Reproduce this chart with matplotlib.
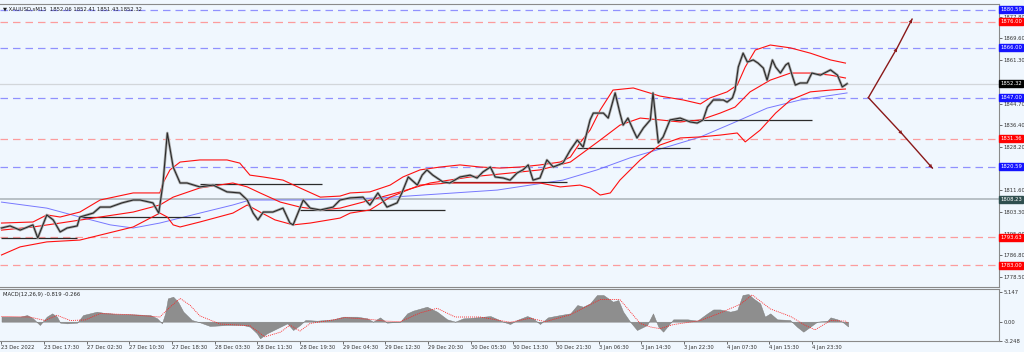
import matplotlib
matplotlib.use("Agg")
import matplotlib.pyplot as plt

# ---------------- data ----------------
title_text = "\u25bc XAUUSD,sM15  1852.06 1852.41 1851.43 1852.32"
macd_text = "MACD(12,26,9) -0.819 -0.266"

price_h = [0, 1.6, 3.5, 5.9, 6.8, 8.5, 9.7, 11.0, 12.3, 14.2, 14.7, 17.2, 18.5, 20.4, 22.6, 24.7, 26.0, 28.4, 29.5,
           30.3, 31.1, 32.2, 33.5, 34.8, 37.2, 39.7, 42.3, 44.7, 46.1, 47.2, 48.1, 49.1, 50.9, 52.8, 54.1, 54.7, 56.6,
           57.9, 59.8, 62.2, 63.5, 65.4, 67.8, 69.1, 70.6, 72.3, 74.2, 75.1, 76.3, 78.0, 78.9, 79.8, 80.9, 82.8, 84.1,
           86.0, 87.9, 89.2, 90.3, 91.7, 92.6, 94.1, 95.4, 96.7, 97.8, 98.8, 99.7, 101.0, 102.3, 103.5, 105.3, 106.7,
           108.0, 109.1, 110.4, 111.0, 112.9, 113.8, 115.1, 116.0, 116.6, 117.5, 118.5, 119.2, 120.4, 121.7, 122.2,
           123.2, 124.1, 125.4, 127.3, 129.2, 130.5, 131.6, 132.4, 133.5, 135.4, 136.1, 137.1, 137.6, 138.2, 139.1,
           139.9, 141.0, 141.9, 142.9, 143.6, 144.6, 145.2, 146.1, 147.1, 147.6, 148.4, 148.9, 149.8, 151.1, 152.0,
           153.6, 155.5, 156.8, 157.7, 158.6]
price_close = [1797.2, 1798.0, 1796.4, 1798.4, 1793.4, 1802.2, 1800.3, 1795.7, 1797.2, 1798.0, 1801.4, 1802.9, 1805.2,
               1805.2, 1806.8, 1807.9, 1807.9, 1806.8, 1802.9, 1814.4, 1833.5, 1820.5, 1814.4, 1814.4, 1812.9, 1813.6,
               1811.0, 1810.6, 1807.9, 1802.9, 1800.3, 1803.3, 1803.3, 1804.8, 1799.1, 1798.4, 1807.9, 1804.8, 1804.1,
               1805.2, 1807.9, 1808.7, 1809.0, 1806.0, 1810.6, 1805.2, 1806.8, 1810.6, 1816.7, 1813.6, 1817.4, 1819.4,
               1817.4, 1814.8, 1814.4, 1816.7, 1817.4, 1816.3, 1818.6, 1820.5, 1816.7, 1816.3, 1815.5, 1818.2, 1819.4,
               1821.3, 1815.5, 1816.3, 1823.2, 1820.5, 1822.0, 1827.0, 1830.8, 1828.1, 1838.5, 1841.1, 1841.1, 1839.2,
               1848.8, 1841.1, 1836.5, 1839.2, 1834.6, 1831.6, 1835.4, 1838.5, 1848.8, 1829.7, 1832.0, 1838.5, 1839.2,
               1837.7, 1837.3, 1838.5, 1843.4, 1846.1, 1846.1, 1845.3, 1846.9, 1849.9, 1858.7, 1864.0, 1860.6, 1861.4,
               1860.2, 1858.3, 1853.7, 1861.4, 1858.7, 1856.4, 1859.5, 1860.2, 1854.9, 1851.8, 1852.6, 1852.6, 1856.4,
               1855.6, 1857.6, 1855.6, 1851.1, 1852.3]

upper_h = [0, 5.9, 8.5, 11.0, 14.7, 18.5, 24.7, 29.7, 30.3, 31.6, 33.5, 37.2, 42.3, 44.7, 46.6, 49.1, 52.8, 56.0, 59.8,
           63.5, 65.4, 69.1, 72.9, 75.3, 78.5, 82.3, 86.0, 89.8, 93.5, 97.3, 101.0, 104.8, 106.7, 108.5, 110.4, 112.3,
           114.7, 118.5, 123.5, 127.9, 131.1, 132.9, 136.1, 138.0, 139.5, 141.4, 144.2, 148.0, 151.7, 155.5, 158.3]
upper_p = [1799.1, 1799.5, 1802.2, 1801.4, 1803.3, 1807.9, 1810.6, 1810.6, 1814.4, 1819.4, 1822.4, 1823.2, 1823.2,
           1822.0, 1817.4, 1816.7, 1815.5, 1812.5, 1809.0, 1809.4, 1810.6, 1811.0, 1813.6, 1816.7, 1819.4, 1820.5,
           1821.3, 1820.5, 1820.1, 1820.5, 1821.3, 1822.4, 1824.3, 1829.7, 1834.6, 1842.3, 1849.9, 1850.7, 1847.6,
           1846.1, 1844.6, 1846.9, 1849.2, 1851.8, 1858.7, 1865.2, 1867.1, 1866.0, 1864.0, 1861.4, 1860.2]

middle_h = [0, 5.9, 11.0, 18.5, 24.7, 29.7, 32.2, 37.2, 43.4, 46.1, 48.5, 52.3, 56.0, 59.8, 63.5, 67.8, 74.8, 80.4,
            87.9, 95.4, 101.0, 106.7, 112.3, 116.0, 119.8, 123.5, 127.3, 131.1, 134.8, 137.6, 140.4, 144.2, 148.0,
            151.7, 155.5, 158.3]
middle_p = [1796.4, 1797.6, 1799.1, 1801.4, 1803.3, 1806.0, 1809.0, 1812.5, 1814.4, 1812.9, 1810.6, 1807.1, 1805.2,
            1804.1, 1804.8, 1807.1, 1811.0, 1814.4, 1816.7, 1818.2, 1819.4, 1822.4, 1830.8, 1836.5, 1839.2, 1838.5,
            1837.7, 1838.5, 1841.1, 1843.4, 1849.2, 1853.7, 1856.4, 1856.4, 1855.6, 1854.5]

lower_h = [0, 3.5, 8.5, 14.7, 18.5, 24.7, 27.9, 29.7, 31.1, 32.2, 33.5, 37.2, 43.4, 46.1, 48.5, 51.3, 54.7, 57.9,
           63.5, 65.4, 69.1, 72.9, 75.3, 78.5, 84.1, 93.5, 101.0, 104.8, 108.5, 110.4, 112.3, 114.2, 116.0, 119.8,
           123.5, 127.3, 131.1, 134.8, 138.0, 139.5, 142.3, 145.2, 148.0, 151.7, 155.5, 158.3]
lower_p = [1786.9, 1790.0, 1791.9, 1792.6, 1794.5, 1797.6, 1801.0, 1802.9, 1801.4, 1798.4, 1797.6, 1799.5, 1802.9,
           1806.0, 1803.3, 1800.3, 1798.4, 1799.1, 1801.0, 1802.9, 1804.1, 1809.0, 1811.0, 1813.6, 1814.4, 1814.4,
           1814.4, 1812.9, 1813.6, 1812.5, 1809.8, 1810.6, 1815.5, 1823.2, 1828.9, 1831.6, 1832.0, 1832.7, 1833.5,
           1830.1, 1834.6, 1841.1, 1846.1, 1849.2, 1849.9, 1850.3]

ma_h = [0, 8.5, 14.7, 20.4, 24.7, 29.7, 37.2, 43.4, 46.6, 56.0, 71.0, 93.0, 105.3, 111.7, 117.9, 125.4, 131.1, 137.2,
        143.6, 149.8, 158.6]
ma_p = [1807.1, 1804.8, 1801.4, 1798.4, 1797.2, 1799.1, 1802.9, 1806.0, 1807.9, 1807.9, 1808.7, 1811.7, 1815.5,
        1819.4, 1824.0, 1828.5, 1832.0, 1837.3, 1843.0, 1846.1, 1848.8]

# horizontal levels
blue_levels = [1880.59, 1866.00, 1847.00, 1820.59]
red_levels = [1876.00, 1831.36, 1793.63, 1783.00]
current_price = 1852.32
gray_level = 1808.23

# drawn support / resistance segments: start hour, end hour, price
seg_start = [0, 14.7, 37.2, 56.0, 84.1, 108.0, 124.9]
seg_end = [14.2, 37.2, 60.1, 83.2, 106.1, 129.2, 152.1]
seg_price = [1793.5, 1801.4, 1814.0, 1804.1, 1814.8, 1827.9, 1838.5]

# projection arrows: start, middle, end
arrow_up_h = [162.6, 168.0, 170.8]
arrow_up_p = [1847.0, 1866.0, 1877.0]
arrow_dn_h = [162.6, 169.0, 174.6]
arrow_dn_p = [1847.0, 1833.0, 1820.1]

price_ticks = [1877.80, 1869.60, 1861.30, 1844.70, 1836.40, 1828.20, 1811.60, 1803.30, 1795.00, 1786.80, 1778.50]

macd_h = [0, 3.5, 4.8, 5.9, 7.2, 8.5, 9.5, 10.4, 11.0, 12.3, 14.2, 15.3, 17.9, 19.0, 21.7, 24.7, 27.9, 29.2, 30.1,
          30.7, 31.2, 32.2, 33.1, 34.1, 35.7, 37.2, 39.1, 42.3, 45.3, 46.6, 47.9, 48.5, 49.8, 51.7, 53.6, 54.7, 56.0,
          57.0, 59.2, 62.2, 64.1, 66.7, 68.6, 69.7, 71.0, 72.3, 74.8, 76.1, 77.2, 79.8, 81.7, 83.6, 85.1, 86.6, 89.2,
          91.7, 94.1, 95.4, 96.7, 98.6, 99.7, 101.0, 102.5, 104.8, 106.7, 108.0, 109.1, 110.4, 111.7, 112.9, 114.7,
          115.7, 116.6, 117.9, 119.2, 121.1, 122.2, 123.2, 124.1, 126.0, 128.7, 130.5, 132.4, 133.5, 134.8, 136.7,
          138.0, 139.0, 140.1, 141.0, 142.3, 143.2, 144.2, 145.5, 147.9, 149.2, 150.4, 151.7, 153.0, 154.9, 155.5,
          156.8, 157.7, 158.8]
macd_v = [0.86, 0.86, 1.14, 0.57, -0.57, 0.86, 1.43, 0.86, -0.17, -0.29, -0.17, 1.14, 1.72, 1.55, 1.32, 1.26, 1.14,
          0.57, -0.29, 1.43, 4.0, 4.29, 3.43, 1.72, 0.29, -0.11, -0.74, -0.57, -0.57, -0.86, -2.0, -2.86, -2.0, -1.14,
          -0.29, -1.43, -0.57, 0.29, 0.17, 0.4, 0.86, 0.86, 0.57, 0.0, 0.74, -0.17, 0.0, 1.43, 1.89, 2.57, 1.72, 0.4,
          0.0, 0.57, 0.74, 0.97, 0.0, -0.4, 0.29, 0.97, 0.57, -0.4, 0.74, 1.14, 1.43, 2.86, 2.57, 3.15, 4.58, 4.58,
          3.43, 3.72, 1.72, 0.0, -1.43, -0.57, 1.43, -0.86, -1.72, 0.4, 0.4, 0.17, 1.43, 2.1, 2.1, 1.72, 2.0, 4.58,
          4.75, 4.0, 3.15, 0.86, 1.43, 0.4, 0.29, -0.86, -1.72, -0.86, 0.0, 0.17, 0.74, 0.4, 0.0, -0.82]

signal_h = [0, 5.3, 8.2, 10.4, 12.9, 15.7, 18.5, 24.1, 29.7, 31.6, 33.5, 35.4, 37.2, 41.0, 46.6, 49.4, 52.3, 54.1,
            56.0, 57.9, 62.2, 64.4, 69.1, 72.0, 74.8, 78.5, 81.7, 85.1, 89.8, 95.4, 99.2, 102.0, 106.7, 112.3, 116.0,
            119.8, 121.7, 123.5, 126.0, 131.1, 134.8, 138.6, 140.8, 144.2, 148.0, 150.7, 152.6, 155.5, 158.3, 158.8]
signal_v = [0.9, 0.8, 0.2, 1.1, 0.2, 0.3, 1.4, 1.2, 0.8, 2.5, 4.0, 2.8, 1.0, -0.4, -0.7, -2.6, -1.8, -0.6, -1.6, -0.3,
            0.3, 0.7, 0.4, 0.1, 0.0, 1.5, 2.3, 0.8, 0.8, -0.1, 0.6, 0.0, 1.2, 3.8, 3.8, -0.3, -0.9, -1.2, -0.5, 0.2,
            1.5, 3.0, 4.6, 2.2, 0.9, -0.6, -1.4, 0.2, 0.1, -0.27]
macd_ticks = [5.147, 0.0, -3.248]
macd_tick_labels = ["5.147", "0.00", "-3.248"]

time_tick_h = [0, 8, 16, 24, 32, 40, 48, 56, 64, 72, 80, 88, 96, 104, 112, 120, 128, 136, 144, 152]
time_tick_labels = ["23 Dec 2022", "23 Dec 17:30", "27 Dec 02:30", "27 Dec 10:30", "27 Dec 18:30", "28 Dec 03:30",
                    "28 Dec 11:30", "28 Dec 19:30", "29 Dec 04:30", "29 Dec 12:30", "29 Dec 20:30", "30 Dec 05:30",
                    "30 Dec 13:30", "30 Dec 21:30", "3 Jan 06:30", "3 Jan 14:30", "3 Jan 22:30", "4 Jan 07:30",
                    "4 Jan 15:30", "4 Jan 23:30"]

# ---------------- styling ----------------
BG = "#f0f7fe"
FS = 3.75
plt.rcParams['font.family'] = ['DejaVu Sans']

fig = plt.figure(figsize=(10.24, 3.52), dpi=100, facecolor=BG)
ax = fig.add_axes([0.0, 1 - 287 / 352, 999 / 1024, 283 / 352], facecolor=BG)
ax2 = fig.add_axes([0.0, 1 - 341 / 352, 999 / 1024, 52 / 352], facecolor=BG, sharex=ax)

XMIN, XMAX = -0.28, 187.1
ax.set_xlim(XMIN, XMAX)
ax.set_ylim(1774.67, 1882.77)

# levels
for lv in blue_levels:
    ax.axhline(lv, color="#7f7fff", lw=0.9, ls=(0, (6, 4)), alpha=0.85, zorder=1)
for lv in red_levels:
    ax.axhline(lv, color="#ff8c8c", lw=0.9, ls=(0, (6, 4)), alpha=0.85, zorder=1)
ax.axhline(current_price, color="#d2d6da", lw=0.9, zorder=1)
ax.axhline(gray_level, color="#b4bcc2", lw=1.3, zorder=1)

# segments
ax.hlines(seg_price, seg_start, seg_end, colors="#2b2b2b", lw=0.9, zorder=3)

# MA and bands
ax.plot(ma_h, ma_p, color="#6a6aff", lw=0.7, alpha=0.9, zorder=2)
ax.plot(upper_h, upper_p, color="#ff1010", lw=0.8, zorder=3)
ax.plot(middle_h, middle_p, color="#ff1010", lw=0.8, zorder=3)
ax.plot(lower_h, lower_p, color="#ff1010", lw=0.8, zorder=3)

# price
ax.plot(price_h, price_close, color="#a8a8a8", lw=1.9, zorder=4)
ax.plot(price_h, price_close, color="#2a2a2a", lw=0.8, zorder=5)

# arrows
ARC = "#8b1a1a"
for hs, ps in ((arrow_up_h, arrow_up_p), (arrow_dn_h, arrow_dn_p)):
    ax.plot(hs, ps, color=ARC, lw=1.0, zorder=6)
    for i in (1, 2):
        ax.annotate("", xy=(hs[i], ps[i]), xytext=(hs[i - 1], ps[i - 1]),
                    arrowprops=dict(arrowstyle="-|>", color=ARC, lw=0.01, mutation_scale=7,
                                    shrinkA=0, shrinkB=0), zorder=7)

# axes styling
for a in (ax, ax2):
    for s in a.spines.values():
        s.set_color("#8a8a8a")
        s.set_linewidth(0.8)
    a.spines["left"].set_visible(False)
ax.tick_params(axis="x", bottom=False, labelbottom=False)
ax.yaxis.tick_right()
ax.set_yticks(price_ticks)
ax.set_yticklabels([f"{t:.2f}" for t in price_ticks])
ax.tick_params(axis="y", labelsize=FS, length=2, pad=1.2, colors="#333333", width=0.5)

# level labels
lab_levels = [1880.59, 1876.00, 1866.00, current_price, 1847.00, 1831.36, 1820.59, gray_level, 1793.63, 1783.00]
lab_colors = ["#1414ff", "#ff0000", "#1414ff", "#000000", "#1414ff", "#ff0000", "#1414ff", "#2f4f4f", "#ff0000",
              "#ff0000"]
for lv, c in zip(lab_levels, lab_colors):
    ax.text(1.0015, lv, f"{lv:.2f}", transform=ax.get_yaxis_transform(), color="white", fontsize=FS,
            va="center", ha="left", clip_on=False, zorder=10,
            bbox=dict(boxstyle="square,pad=0.2", facecolor=c, edgecolor=c))

ax.text(0.003, 0.99, title_text, transform=ax.transAxes, fontsize=FS, va="top", ha="left", color="#222222")

# MACD
ax2.set_ylim(-3.317, 5.61)
ax2.fill_between(macd_h, 0, macd_v, color="#8e8e8e", lw=0.3, edgecolor="#7a7a7a", zorder=2)
ax2.plot(signal_h, signal_v, color="#ff2020", lw=0.6, ls=(0, (1.2, 1.2)), zorder=3)
ax2.yaxis.tick_right()
ax2.set_yticks(macd_ticks)
ax2.set_yticklabels(macd_tick_labels)
ax2.tick_params(axis="y", labelsize=FS, length=2, pad=1.2, colors="#333333", width=0.5)
ax2.set_xticks(time_tick_h)
ax2.set_xticklabels(time_tick_labels, ha="left")
ax2.tick_params(axis="x", labelsize=FS, length=2, pad=1.0, colors="#333333", width=0.5)
ax2.text(0.003, 0.95, macd_text, transform=ax2.transAxes, fontsize=FS, va="top", ha="left", color="#222222")
ax2.set_xlim(XMIN, XMAX)

fig.savefig("out.png", dpi=100, facecolor=BG)
